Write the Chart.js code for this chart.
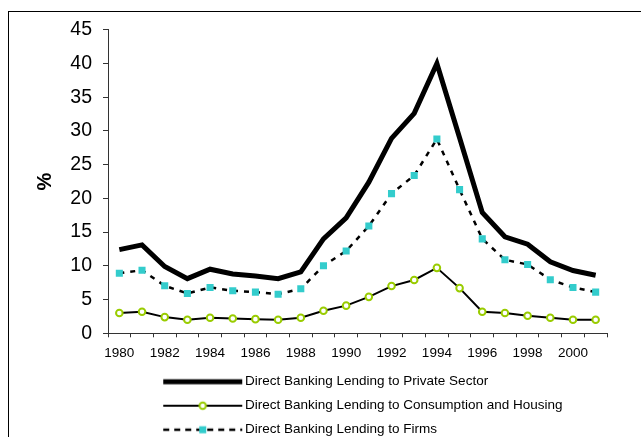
<!DOCTYPE html>
<html>
<head>
<meta charset="utf-8">
<script src="https://cdn.jsdelivr.net/npm/chart.js@4.4.0/dist/chart.umd.min.js"></script>
<style>
html,body{margin:0;padding:0;background:#fff;overflow:hidden;width:641px;height:437px;}
#frame{position:absolute;left:8px;top:11px;width:700px;height:500px;border-left:1px solid #000;border-top:1px solid #000;}
#wrap{position:absolute;left:0;top:0;width:641px;height:437px;}
</style>
</head>
<body>
<div id="frame"></div>
<div id="wrap"><canvas id="c" width="641" height="437"></canvas></div>
<script>
const years = ['1980','1981','1982','1983','1984','1985','1986','1987','1988','1989','1990',
               '1991','1992','1993','1994','1995','1996','1997','1998','1999','2000','2001'];
const privateSector = [12.4,13.1,9.9,8.1,9.5,8.8,8.5,8.1,9.1,14.0,17.1,22.4,28.9,32.6,40.0,29.0,17.9,14.3,13.2,10.6,9.3,8.6];
const consumptionHousing = [3.0,3.2,2.4,2.0,2.3,2.2,2.1,2.0,2.3,3.35,4.1,5.4,7.0,7.9,9.7,6.7,3.2,3.0,2.6,2.3,2.0,2.0];
const firms = [8.9,9.35,7.05,5.9,6.8,6.3,6.1,5.8,6.6,10.0,12.2,15.9,20.7,23.4,28.8,21.3,14.0,10.9,10.2,7.95,6.8,6.1];
const seriesNames = [
  'Direct Banking Lending to Private Sector',
  'Direct Banking Lending to Consumption and Housing',
  'Direct Banking Lending to Firms'
];
const yMin = 0, yMax = 45, yStep = 5;

const GREEN = '#99CC00';
const CYAN = '#33CCCC';
const LEGEND_FONT = 13.5;
const LEGEND_PAD = 10.5;

Chart.defaults.font.family = '"Liberation Sans", Arial, sans-serif';
Chart.defaults.color = '#000';

function makeSample(kind) {
  const c = document.createElement('canvas');
  c.width = 90; c.height = 14;
  const g = c.getContext('2d');
  const y = 7;
  g.strokeStyle = '#000';
  if (kind === 0) {
    g.lineWidth = 5;
    g.beginPath(); g.moveTo(10, y); g.lineTo(89, y); g.stroke();
  } else if (kind === 1) {
    g.lineWidth = 2;
    g.beginPath(); g.moveTo(10, y); g.lineTo(89, y); g.stroke();
    g.beginPath(); g.arc(49.5, y, 3.2, 0, Math.PI * 2);
    g.fillStyle = '#fff'; g.fill();
    g.lineWidth = 2; g.strokeStyle = GREEN; g.stroke();
  } else {
    g.lineWidth = 2.5;
    g.setLineDash([6, 5]);
    g.beginPath(); g.moveTo(10, y); g.lineTo(89, y); g.stroke();
    g.fillStyle = CYAN;
    g.fillRect(46, y - 3.5, 7, 7);
  }
  return c;
}
const samples = [makeSample(0), makeSample(1), makeSample(2)];

const placeLegend = {
  id: 'placeLegend',
  afterLayout(chart) {
    const lg = chart.legend;
    if (!lg) return;
    const boxLeft = 245 - 80 - LEGEND_FONT / 2;
    lg.left = boxLeft - LEGEND_PAD;
    lg.top = 381.7 - LEGEND_FONT / 2 - LEGEND_PAD;
    lg.width = 480; lg.height = 200;
    lg.right = lg.left + lg.width;
    lg.bottom = lg.top + lg.height;
  }
};

new Chart(document.getElementById('c'), {
  type: 'line',
  data: {
    labels: years,
    datasets: [
      {
        label: seriesNames[0],
        data: privateSector,
        borderColor: '#000',
        borderWidth: 5,
        pointRadius: 0,
        tension: 0,
        fill: false
      },
      {
        label: seriesNames[1],
        data: consumptionHousing,
        borderColor: '#000',
        borderWidth: 2,
        pointStyle: 'circle',
        pointRadius: 3.3,
        pointBorderWidth: 2,
        pointBorderColor: GREEN,
        pointBackgroundColor: '#fff',
        tension: 0,
        fill: false
      },
      {
        label: seriesNames[2],
        data: firms,
        borderColor: '#000',
        borderWidth: 2.5,
        borderDash: [5, 6],
        pointStyle: 'rect',
        pointRadius: 5,
        pointBorderWidth: 0,
        pointBorderColor: CYAN,
        pointBackgroundColor: CYAN,
        tension: 0,
        fill: false
      }
    ]
  },
  options: {
    responsive: false,
    animation: false,
    devicePixelRatio: 1,
    layout: { padding: { top: 29.7, right: 34, bottom: 0, left: 0 } },
    plugins: {
      tooltip: { enabled: false },
      legend: {
        display: true,
        position: 'chartArea',
        align: 'start',
        labels: {
          usePointStyle: true,
          pointStyleWidth: 80,
          boxHeight: 12,
          padding: LEGEND_PAD,
          font: { size: LEGEND_FONT },
          color: '#000',
          generateLabels(chart) {
            return chart.data.datasets.map((ds, i) => ({
              text: ds.label,
              pointStyle: samples[i],
              fillStyle: 'transparent',
              strokeStyle: 'transparent',
              lineWidth: 0,
              fontColor: '#000',
              hidden: false,
              datasetIndex: i
            }));
          }
        }
      }
    },
    scales: {
      x: {
        type: 'category',
        offset: true,
        afterFit(scale) { scale.height = 437 - 333.3; },
        grid: { offset: true, drawOnChartArea: false, drawTicks: true, tickLength: 4, color: '#333' },
        border: { display: true, color: '#333', width: 1 },
        ticks: {
          autoSkip: false,
          maxRotation: 0,
          minRotation: 0,
          padding: 8,
          font: { size: 13.5 },
          color: '#000',
          callback: (v, i) => (i % 2 === 0 ? years[i] : '')
        }
      },
      y: {
        min: yMin,
        max: yMax,
        afterFit(scale) { scale.width = 108; },
        grid: { drawOnChartArea: false, drawTicks: true, tickLength: 5, color: '#333' },
        border: { display: true, color: '#333', width: 1 },
        ticks: { stepSize: yStep, padding: 11, font: { size: 19.5 }, color: '#000' },
        title: {
          display: true,
          text: '%',
          font: { size: 20, weight: 'bold' },
          color: '#000',
          padding: { top: 33, bottom: 0 }
        }
      }
    }
  },
  plugins: [placeLegend]
});
</script>
</body>
</html>
